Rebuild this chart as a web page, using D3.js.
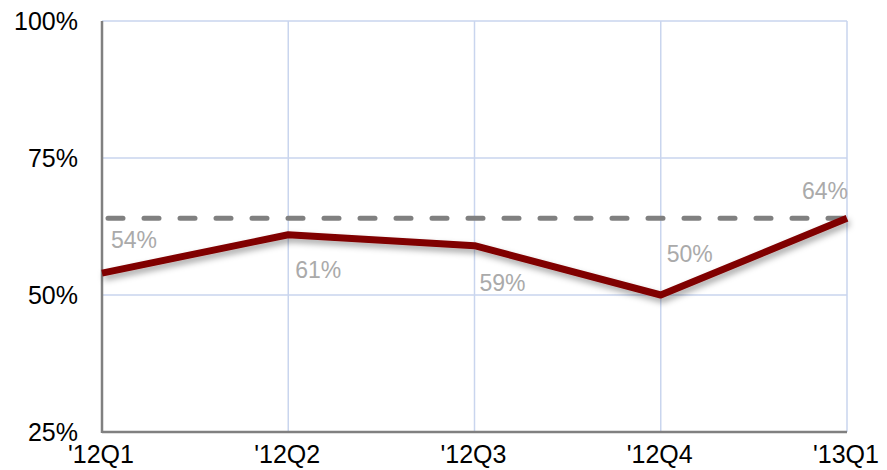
<!DOCTYPE html>
<html>
<head>
<meta charset="utf-8">
<script src="https://cdn.jsdelivr.net/npm/d3@7"></script>
<style>
  body { margin: 0; background: #fff; }
  svg { display: block; font-family: "Liberation Sans", Arial, Helvetica, sans-serif; }
</style>
</head>
<body>
<svg id="chart" width="887" height="470"></svg>
<script>
const categories = ["'12Q1", "'12Q2", "'12Q3", "'12Q4", "'13Q1"];
const values = [54, 61, 59, 50, 64];
const targetValue = 64;
const yTicks = [25, 50, 75, 100];

// label placement (style config, offsets in px from the point)
const labelDx = [9, 7, 5, 6, 1];
const labelDy = [-25, 43, 45, -33, -19];
const labelAnchor = ["start", "start", "start", "start", "end"];

const margin = { left: 102, right: 40, top: 21, bottom: 38 };
const W = 887, H = 470;
const svg = d3.select("#chart");

const x = d3.scalePoint().domain(categories).range([margin.left, W - margin.right]);
const y = d3.scaleLinear().domain([25, 100]).range([H - margin.bottom, margin.top]);

const defs = svg.append("defs");
const f = defs.append("filter").attr("id", "shadow").attr("x", "-10%").attr("y", "-50%").attr("width", "120%").attr("height", "200%");
f.append("feDropShadow").attr("dx", 2).attr("dy", 4).attr("stdDeviation", 3)
  .attr("flood-color", "#000").attr("flood-opacity", 0.35);

const gridColor = "#c9d5ee";
svg.append("g").selectAll("line").data(yTicks.filter(d => d !== 25)).join("line")
  .attr("x1", margin.left).attr("x2", W - margin.right)
  .attr("y1", d => y(d)).attr("y2", d => y(d))
  .attr("stroke", gridColor).attr("stroke-width", 1.5);
svg.append("g").selectAll("line").data(categories.slice(1)).join("line")
  .attr("x1", d => x(d)).attr("x2", d => x(d))
  .attr("y1", margin.top).attr("y2", H - margin.bottom)
  .attr("stroke", gridColor).attr("stroke-width", 1.5);

svg.append("line").attr("x1", margin.left).attr("x2", margin.left)
  .attr("y1", margin.top).attr("y2", H - margin.bottom + 1)
  .attr("stroke", "#808080").attr("stroke-width", 2.5);
svg.append("line").attr("x1", margin.left).attr("x2", W - margin.right)
  .attr("y1", H - margin.bottom).attr("y2", H - margin.bottom)
  .attr("stroke", "#808080").attr("stroke-width", 2.5);

svg.append("g").selectAll("text").data(yTicks).join("text")
  .attr("x", margin.left - 24).attr("y", d => y(d))
  .attr("text-anchor", "end").attr("dominant-baseline", "central")
  .attr("font-size", 25).attr("fill", "#000")
  .text(d => d + "%");

svg.append("g").selectAll("text").data(categories).join("text")
  .attr("x", d => x(d) - 1).attr("y", H - 7)
  .attr("text-anchor", "middle")
  .attr("font-size", 25).attr("fill", "#000")
  .text(d => d);

svg.append("line")
  .attr("x1", margin.left + 6).attr("x2", W - margin.right)
  .attr("y1", y(targetValue)).attr("y2", y(targetValue))
  .attr("stroke", "#808080").attr("stroke-width", 5)
  .attr("stroke-dasharray", "15,21").attr("stroke-linecap", "round");

const line = d3.line().x((d, i) => x(categories[i])).y(d => y(d));
svg.append("path").datum(values)
  .attr("d", line).attr("fill", "none")
  .attr("stroke", "#800000").attr("stroke-width", 7)
  .attr("stroke-linejoin", "round")
  .attr("filter", "url(#shadow)");

svg.append("g").selectAll("text").data(values).join("text")
  .attr("x", (d, i) => x(categories[i]) + labelDx[i])
  .attr("y", (d, i) => y(d) + labelDy[i])
  .attr("text-anchor", (d, i) => labelAnchor[i])
  .attr("font-size", 23).attr("fill", "#aaaaaa")
  .text(d => d + "%");
</script>
</body>
</html>
